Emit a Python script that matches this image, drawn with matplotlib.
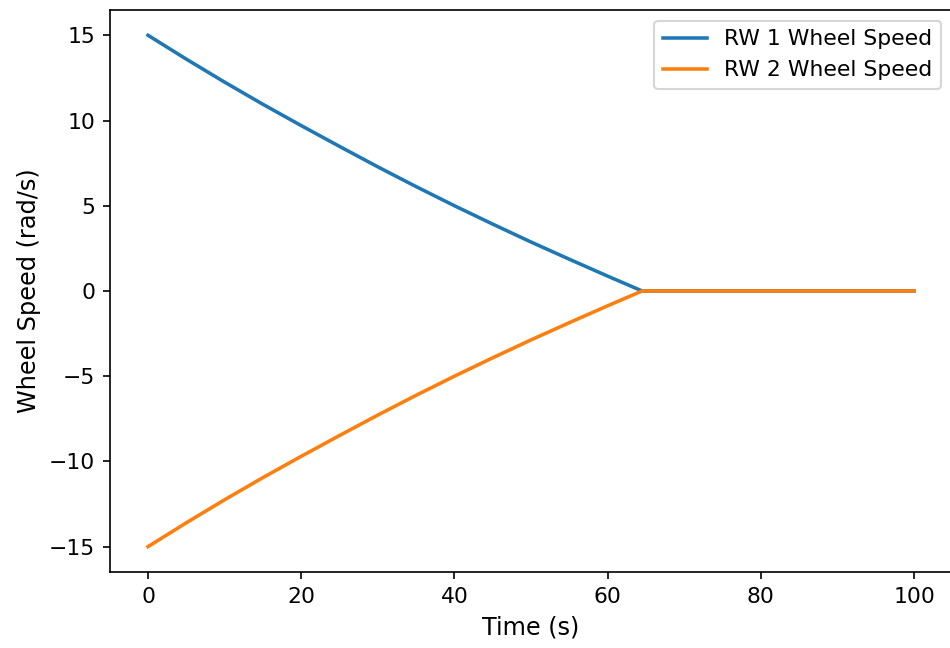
import matplotlib
matplotlib.use("Agg")
import matplotlib.pyplot as plt
import numpy as np

# wheel speeds
time = [0, 5, 10, 15, 20, 25, 30, 35, 40, 45, 50, 55, 60, 64.5, 70, 75, 80, 85, 90, 95, 100]
rw1_speed = [15.0, 13.6, 12.25, 10.95, 9.7, 8.48, 7.28, 6.12, 5.0, 3.92, 2.87, 1.86, 0.87, 0.0,
             0.0, 0.0, 0.0, 0.0, 0.0, 0.0, 0.0]
rw2_speed = [-v for v in rw1_speed]

fig = plt.figure(figsize=(950 / 150, 648 / 150), dpi=150)
# right spine sits just past the edge of the saved image
ax = fig.add_axes([0.1155, 0.117, 0.887, 0.868])

ax.plot(time, rw1_speed, label="RW 1 Wheel Speed", lw=1.7)
ax.plot(time, rw2_speed, label="RW 2 Wheel Speed", lw=1.7)

ax.tick_params(labelsize=10.5)
ax.set_xlabel("Time (s)", fontsize=11.5)
ax.set_ylabel("Wheel Speed (rad/s)", fontsize=11.5)
ax.legend(loc="upper right", fontsize=10.5)

fig.savefig("out.png", dpi=150)
